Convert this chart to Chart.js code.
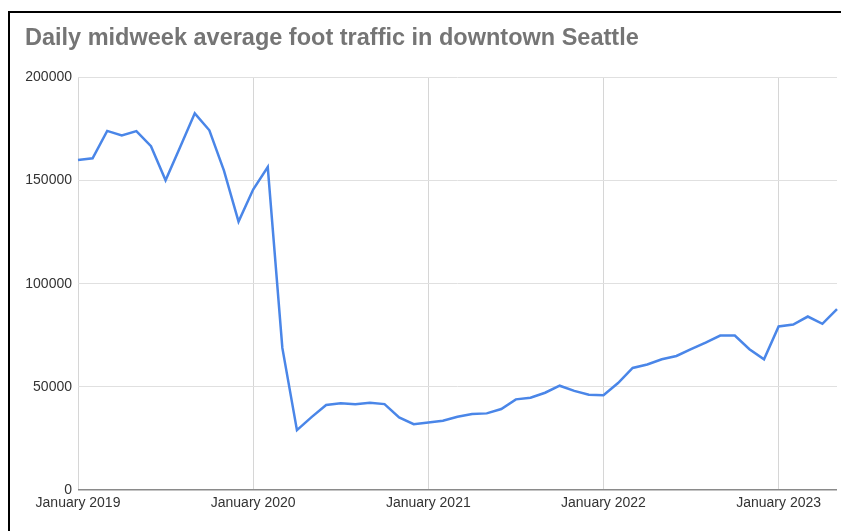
<!DOCTYPE html>
<html lang="en">
<head>
  <meta charset="UTF-8" />
  <title>Daily midweek average foot traffic in downtown Seattle</title>
  <script src="https://cdn.jsdelivr.net/npm/chart.js"></script>
  <style>
    html, body { margin: 0; padding: 0; background: #fff; }
    #wrap { position: relative; width: 841px; height: 531px; overflow: hidden; }
    #frame {
      position: absolute; left: 8px; top: 11px; right: -10px; bottom: -10px;
      border-top: 2.5px solid #000; border-left: 2.5px solid #000;
      pointer-events: none;
    }
  </style>
</head>
<body>
  <div id="wrap">
    <canvas id="grafico" width="841" height="531"></canvas>
    <div id="frame"></div>
  </div>

  <script>
    const titulo = "Daily midweek average foot traffic in downtown Seattle";

    // one point per month, January 2019 .. May 2023
    const meses = [
      "January 2019", "February 2019", "March 2019", "April 2019", "May 2019", "June 2019",
      "July 2019", "August 2019", "September 2019", "October 2019", "November 2019", "December 2019",
      "January 2020", "February 2020", "March 2020", "April 2020", "May 2020", "June 2020",
      "July 2020", "August 2020", "September 2020", "October 2020", "November 2020", "December 2020",
      "January 2021", "February 2021", "March 2021", "April 2021", "May 2021", "June 2021",
      "July 2021", "August 2021", "September 2021", "October 2021", "November 2021", "December 2021",
      "January 2022", "February 2022", "March 2022", "April 2022", "May 2022", "June 2022",
      "July 2022", "August 2022", "September 2022", "October 2022", "November 2022", "December 2022",
      "January 2023", "February 2023", "March 2023", "April 2023", "May 2023"
    ];

    const trafego = [
      159900, 160700, 174000, 171800, 173900, 166600, 150100, 166200, 182500, 174300, 154800, 130100,
      145600, 156500, 68900, 29100, 35400, 41300, 42100, 41600, 42400, 41700, 35200, 32000,
      32800, 33600, 35600, 36900, 37200, 39300, 44000, 44800, 47200, 50600, 48100, 46200,
      46000, 51900, 59200, 60900, 63400, 65000, 68300, 71500, 74900, 74900, 68300, 63400,
      79300, 80200, 84100, 80600, 87700
    ];

    const rotulosX = ["January 2019", "January 2020", "January 2021", "January 2022", "January 2023"];
    const ticksY = [0, 50000, 100000, 150000, 200000];

    new Chart(document.getElementById("grafico"), {
      type: "line",
      data: {
        labels: meses,
        datasets: [{
          data: trafego,
          borderColor: "#4a86e8",
          borderWidth: 2.5,
          pointRadius: 0,
          tension: 0,
          fill: false
        }]
      },
      options: {
        responsive: false,
        animation: false,
        layout: { padding: { left: 25, right: 4, top: 0, bottom: 14 } },
        plugins: {
          legend: { display: false },
          tooltip: { enabled: false },
          title: {
            display: true,
            text: titulo,
            align: "start",
            color: "#757575",
            font: { family: "Liberation Sans, Arial, sans-serif", size: 23.5, weight: "bold" },
            padding: { top: 24, bottom: 25 }
          }
        },
        scales: {
          x: {
            type: "category",
            offset: false,
            border: { display: false },
            grid: { color: "#d6d6d6", lineWidth: 1, drawTicks: false },
            ticks: {
              autoSkip: false,
              maxRotation: 0,
              padding: 5,
              color: "#333",
              font: { family: "Liberation Sans, Arial, sans-serif", size: 14 },
              callback: function (v) {
                const lab = this.getLabelForValue(v);
                return rotulosX.includes(lab) ? lab : null;
              }
            }
          },
          y: {
            min: ticksY[0],
            max: ticksY[ticksY.length - 1],
            border: { display: false },
            afterFit: (s) => { s.width = 53; },
            afterBuildTicks: (s) => { s.ticks = ticksY.map(v => ({ value: v })); },
            grid: {
              drawTicks: false,
              color: (c) => c.tick && c.tick.value === 0 ? "#8a8a8a" : "#e0e0e0",
              lineWidth: (c) => c.tick && c.tick.value === 0 ? 1.5 : 1
            },
            ticks: {
              padding: 6,
              color: "#333",
              font: { family: "Liberation Sans, Arial, sans-serif", size: 14 },
              callback: (v) => String(v)
            }
          }
        }
      }
    });
  </script>
</body>
</html>
